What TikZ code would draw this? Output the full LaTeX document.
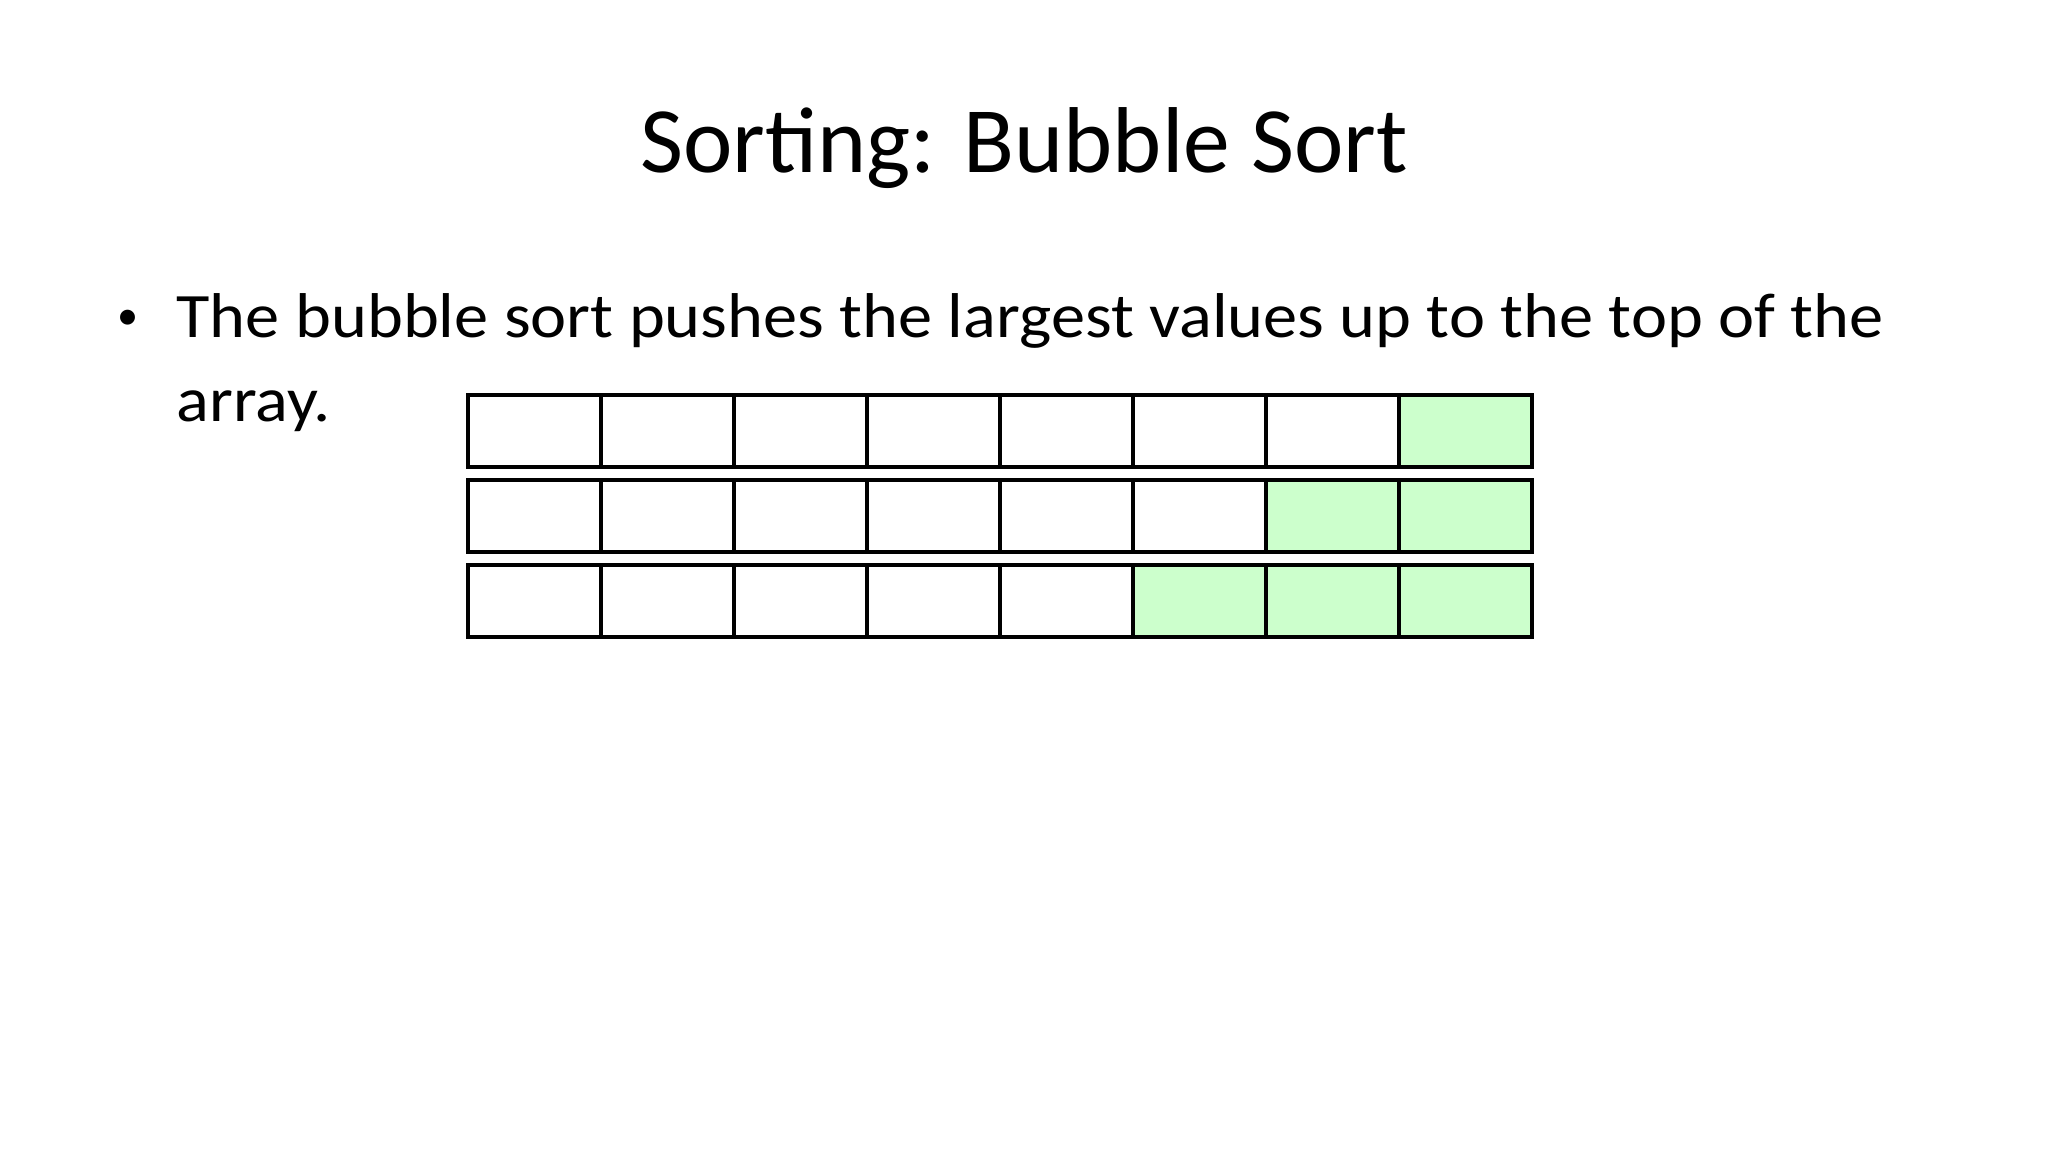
\documentclass[tikz,border=0pt]{standalone}
\usepackage{fontspec}
\setmainfont{Carlito}
\newfontfamily\bodyfont[FakeStretch=1.08]{Carlito}
\definecolor{sortedgreen}{HTML}{CCFFCC}
\tikzset{
    titletext/.style={inner sep=0pt, anchor=base, font=\fontsize{26.6}{32}\selectfont},
    bodytext/.style={inner sep=0pt, anchor=base west, font=\bodyfont\fontsize{18}{22}\selectfont},
    cell/.style={draw=black, line width=1pt, minimum width=1.33cm, minimum height=0.72cm,
        inner sep=0pt, outer sep=0pt, anchor=north west}
}
\begin{document}
\begin{tikzpicture}[x=0.01cm,y=-0.01cm]
    \useasboundingbox[fill=white] (0,0) rectangle (2048,1152);

    % Title
    \node[titletext] (title) at (1024,173) {Sorting: Bubble Sort};

    % Bullet point
    \node[inner sep=0pt, font=\fontsize{12}{14}\selectfont] (dot) at (128,320) {•};
    \node[bodytext] (line1) at (176,338) {The bubble sort pushes the largest values up to the top of the};
    \node[bodytext] (line2) at (176,422) {array.};

    % Array rows, sorted cells in green
    \foreach \r in {1,2,3} {
        \foreach \c in {1,...,8} {
            \def\cellfill{white}
            \ifnum\c>\numexpr8-\r\relax \def\cellfill{sortedgreen}\fi
            \node[cell, fill=\cellfill] (cell-\r-\c) at ({468+(\c-1)*133},{395+(\r-1)*85}) {};
        }
    }

\end{tikzpicture}
\end{document}
